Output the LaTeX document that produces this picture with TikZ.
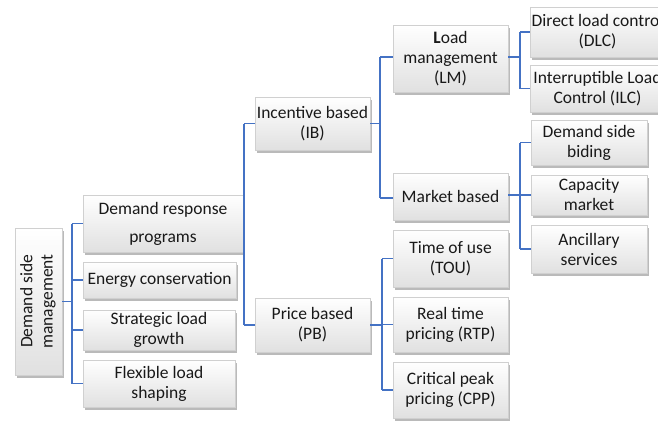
\documentclass[tikz,border=0pt]{standalone}
\usepackage{fontspec}
\setmainfont{Carlito}
\usetikzlibrary{shadows}
\definecolor{linkblue}{HTML}{4472C4}
\definecolor{boxedge}{HTML}{D0D0D0}
\tikzset{
  box/.style={draw=boxedge, line width=0.6pt, top color=white, bottom color=black!12,
    align=center, inner sep=0pt, text=black!90,
    font=\fontsize{17.5}{20}\selectfont,
    drop shadow={shadow xshift=1.5pt, shadow yshift=-3pt, fill=black!45, opacity=0.6}},
  conn/.style={draw=linkblue, line width=1.2pt},
}
\begin{document}
\begin{tikzpicture}[x=1pt, y={(0pt,-1pt)}]
\useasboundingbox (0,0) rectangle (658,426);
\clip (0,0) rectangle (658,426);
\fill[white] (0,0) rectangle (658,426);

% root
\node[box, minimum width=47pt, minimum height=147pt] (root) at (38.5,301.5)
  {\rotatebox{90}{\begin{tabular}{@{}c@{}}Demand side\\management\end{tabular}}};

% first level
\node[box, minimum width=160pt, minimum height=57pt] (dr) at (163,223.5) {Demand response\\[8pt]programs};
\node[box, minimum width=153pt, minimum height=36pt] (ec) at (159.5,280) {Energy conservation};
\node[box, minimum width=152pt, minimum height=40pt] (slg) at (159,330) {Strategic load\\growth};
\node[box, minimum width=152pt, minimum height=47pt] (fls) at (159,383.5) {Flexible load\\shaping};

% second level
\node[box, minimum width=115pt, minimum height=53pt] (ib) at (312.5,123.5) {Incentive based\\(IB)};
\node[box, minimum width=115pt, minimum height=54pt] (pb) at (312.5,325) {Price based\\(PB)};

% third level
\node[box, minimum width=115pt, minimum height=67pt] (lm) at (450.5,58.5) {\textbf{L}oad\\management\\(LM)};
\node[box, minimum width=115pt, minimum height=47pt] (mb) at (450.5,196.5) {Market based};
\node[box, minimum width=115pt, minimum height=57pt] (tou) at (450.5,258.5) {Time of use\\(TOU)};
\node[box, minimum width=115pt, minimum height=55pt] (rtp) at (450.5,324.5) {Real time\\pricing (RTP)};
\node[box, minimum width=115pt, minimum height=56pt] (cpp) at (450.5,390) {Critical peak\\pricing (CPP)};

% fourth level (the right-hand column runs off the page edge)
\node[box, minimum width=135pt, minimum height=50pt] (dlc) at (597.5,32) {Direct load control\\(DLC)};
\node[box, minimum width=135pt, minimum height=47pt] (ilc) at (597.5,88.5) {Interruptible Load\\Control (ILC)};
\node[box, minimum width=116pt, minimum height=45pt] (dsb) at (589,142.5) {Demand side\\biding};
\node[box, minimum width=116pt, minimum height=40pt] (cm) at (589,195) {Capacity\\market};
\node[box, minimum width=116pt, minimum height=48pt] (as) at (589,249) {Ancillary\\services};

% trunk positions
\coordinate (t0) at (72,0);
\coordinate (t1) at (244,0);
\coordinate (t2) at (380,0);
\coordinate (t3) at (382,0);
\coordinate (t4) at (520,0);

% root -> first level
\draw[conn] (root.east) -- (root.east -| t0);
\draw[conn] (dr.west -| t0) -- (fls.west -| t0);
\foreach \n in {dr,ec,slg,fls} \draw[conn] (\n.west -| t0) -- (\n.west);

% demand response -> IB / PB
\draw[conn] (dr.east) -- (dr.east -| t1);
\draw[conn] (ib.west -| t1) -- (pb.west -| t1);
\foreach \n in {ib,pb} \draw[conn] (\n.west -| t1) -- (\n.west);

% IB -> LM / market based
\draw[conn] (ib.east) -- (ib.east -| t2);
\draw[conn] ([yshift=1.5pt]lm.west -| t2) -- ([yshift=-1.5pt]mb.west -| t2);
\draw[conn] ([yshift=1.5pt]lm.west -| t2) -- ([yshift=1.5pt]lm.west);
\draw[conn] ([yshift=-1.5pt]mb.west -| t2) -- ([yshift=-1.5pt]mb.west);

% PB -> TOU / RTP / CPP
\draw[conn] (pb.east) -- (pb.east -| t3);
\draw[conn] (tou.west -| t3) -- (cpp.west -| t3);
\foreach \n in {tou,rtp,cpp} \draw[conn] (\n.west -| t3) -- (\n.west);

% LM -> DLC / ILC
\draw[conn] ([yshift=1.5pt]lm.east) -- ([yshift=1.5pt]lm.east -| t4);
\draw[conn] (dlc.west -| t4) -- (ilc.west -| t4);
\foreach \n in {dlc,ilc} \draw[conn] (\n.west -| t4) -- (\n.west);

% market based -> DSB / CM / AS
\draw[conn] ([yshift=1.5pt]mb.east) -- ([yshift=1.5pt]mb.east -| t4);
\draw[conn] (dsb.west -| t4) -- (as.west -| t4);
\foreach \n in {dsb,cm,as} \draw[conn] (\n.west -| t4) -- (\n.west);
\end{tikzpicture}
\end{document}
